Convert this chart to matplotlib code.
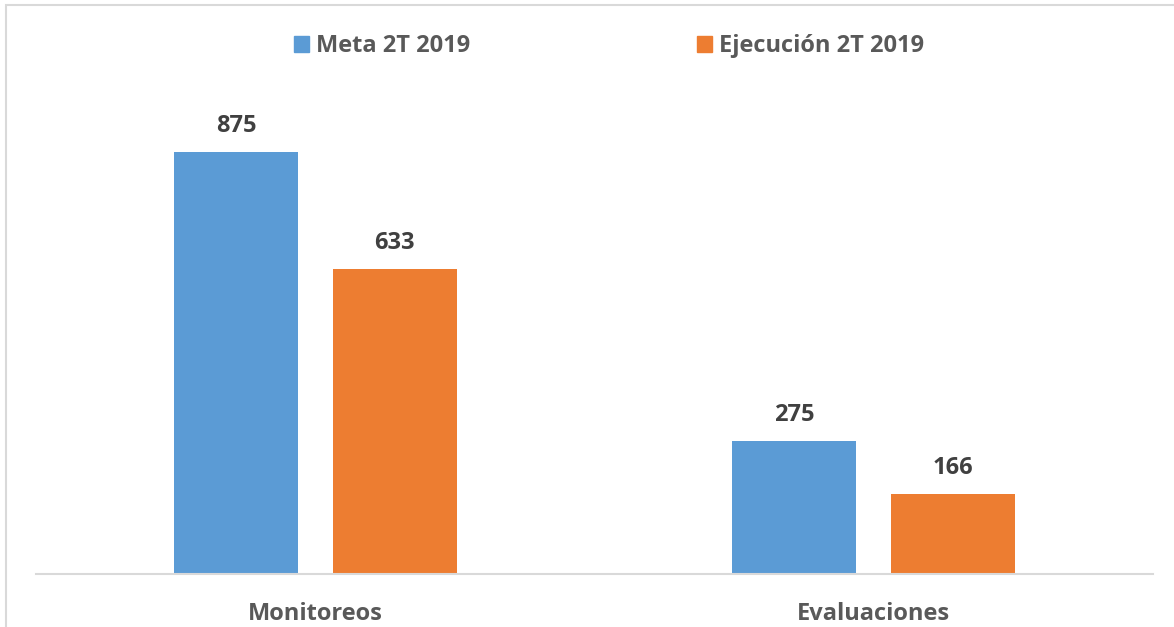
import matplotlib
import matplotlib.pyplot as plt
import numpy as np
from matplotlib.patches import Patch, Rectangle

matplotlib.use("Agg")

# ── data ─────────────────────────────────────────────────────────────────────
categories = ["Monitoreos", "Evaluaciones"]
series_names = ["Meta 2T 2019", "Ejecución 2T 2019"]
meta = [875, 275]
ejecucion = [633, 166]

BLUE = "#5B9BD5"
ORANGE = "#ED7D31"
GRID = "#D9D9D9"
TEXT = "#595959"
LABEL = "#404040"

W, H = 1174, 627
plt.rcParams["font.family"] = ["Open Sans", "DejaVu Sans"]
FS = 17

fig = plt.figure(figsize=(W / 100, H / 100), dpi=100)
ax = fig.add_axes([36 / W, 1 - 574 / H, (1153 - 36) / W, 482.3 / H])

x = np.arange(len(categories))
width = 0.222
offset = 0.142
b1 = ax.bar(x - offset, meta, width, color=BLUE, label=series_names[0])
b2 = ax.bar(x + offset, ejecucion, width, color=ORANGE, label=series_names[1])

for bars in (b1, b2):
    ax.bar_label(bars, padding=10, fontsize=FS, fontweight="bold", color=LABEL)

ax.set_xlim(-0.5, 1.5)
ax.set_ylim(0, 1000)
ax.set_yticks([])
ax.set_xticks(x)
ax.set_xticklabels(categories, fontsize=FS, fontweight="bold", color=TEXT)
ax.tick_params(axis="x", length=0, pad=20)
for side in ("top", "right", "left"):
    ax.spines[side].set_visible(False)
ax.spines["bottom"].set_color(GRID)
ax.spines["bottom"].set_linewidth(1.5)

# chart frame (left/top edges visible in the crop)
fig.patches.append(Rectangle((6 / W, -0.1), 1.2, 1.1 - 5 / H, transform=fig.transFigure,
                             fill=False, edgecolor=GRID, linewidth=1.5))

handles = [Patch(color=BLUE), Patch(color=ORANGE)]
fig.legend(handles, series_names, loc="center", bbox_to_anchor=(609 / W, 1 - 46 / H),
           ncol=2, frameon=False, handlelength=0.64, handleheight=0.64,
           handletextpad=0.3, columnspacing=9.6,
           prop={"size": FS, "weight": "bold"}, labelcolor=TEXT)

fig.savefig("out.png", dpi=100)
